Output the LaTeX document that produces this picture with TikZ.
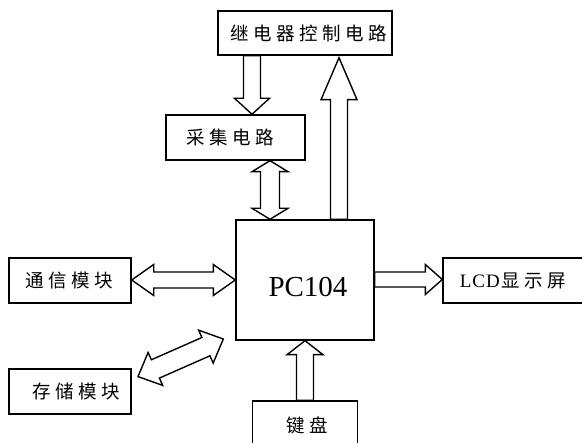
\documentclass[tikz,border=0pt]{standalone}
\usepackage{fontspec}
\setmainfont{Liberation Serif}
\newfontfamily\cjk[LetterSpace=24]{Noto Sans CJK SC}
\usetikzlibrary{calc}
\tikzset{
  box/.style={draw, line width=1.4pt, fill=white, inner sep=0pt, minimum height=45pt,
    font=\cjk\fontsize{18.5}{18.5}\selectfont},
  arr/.style={draw, line width=1.4pt, fill=white, line join=miter},
  pclabel/.style={font=\fontsize{29}{29}\selectfont, inner sep=0pt},
}
% single block arrow: start, end, half shaft, half head, head length
\newcommand\sarrow[5]{%
  \draw[arr] ($(#1)!#3!90:(#2)$) -- ($(#2)!#5!(#1)!#3!90:(#2)$) -- ($(#2)!#5!(#1)!#4!90:(#2)$)
    -- (#2) -- ($(#2)!#5!(#1)!#4!-90:(#2)$) -- ($(#2)!#5!(#1)!#3!-90:(#2)$)
    -- ($(#1)!#3!-90:(#2)$) -- cycle;}
% double block arrow
\newcommand\darrow[5]{%
  \draw[arr] (#1) -- ($(#1)!#5!(#2)!#4!90:(#2)$) -- ($(#1)!#5!(#2)!#3!90:(#2)$)
    -- ($(#2)!#5!(#1)!#3!90:(#2)$) -- ($(#2)!#5!(#1)!#4!90:(#2)$) -- (#2)
    -- ($(#2)!#5!(#1)!#4!-90:(#2)$) -- ($(#2)!#5!(#1)!#3!-90:(#2)$)
    -- ($(#1)!#5!(#2)!#3!-90:(#2)$) -- ($(#1)!#5!(#2)!#4!-90:(#2)$) -- cycle;}
\begin{document}
\begin{tikzpicture}[x=1pt, y=1pt]
\useasboundingbox (0,0) rectangle (582,443);
% boxes
\node[box, minimum width=174pt, minimum height=44pt] (relay) at (305,410) {\hspace*{8pt}继电器控制电路};
\node[box, minimum width=139pt] (acq) at (235.5,305.5) {采集电路\hspace*{10pt}};
\node[box, minimum width=138pt, minimum height=120pt,
  label={[pclabel, xshift=3pt, yshift=-7pt]center:PC104}] (pc) at (305,163) {};
\node[box, minimum width=122pt] (comm) at (70,162.5) {通信模块\hspace*{2pt}};
\node[box, minimum width=140pt] (lcd) at (513,162.5) {{\fontsize{19}{19}\selectfont\rmfamily L\kern1pt C\kern1pt D\kern2pt}显示屏};
\node[box, minimum width=122pt] (store) at (70,51.5) {\hspace*{13pt}存储模块};
\node[box, minimum width=105pt, minimum height=50pt] (kbd) at (305,17) {\raisebox{2pt}{\hspace*{4pt}键盘}};
% arrow end points
\coordinate (a1s) at ($(relay.south)+(-53,0)$);
\coordinate (a1e) at (a1s |- acq.north);
\coordinate (a2s) at ($(pc.north)+(34,0)$);
\coordinate (a2e) at ($(a2s |- relay.south)+(0,-2)$);
\coordinate (a3s) at ($(acq.south)+(34.5,0)$);
\coordinate (a3e) at (a3s |- pc.north);
\coordinate (a4s) at ($(comm.east)+(0,0.5)$);
\coordinate (a4e) at (a4s -| pc.west);
\coordinate (a5s) at ($(pc.east)+(0,0.5)$);
\coordinate (a5e) at (a5s -| lcd.west);
\coordinate (a6s) at (kbd.north);
\coordinate (a6e) at (a6s |- pc.south);
\coordinate (a7s) at ($(store.north east)+(6.3,-8.3)$);
\coordinate (a7e) at ($(pc.south west)+(-12,1.7)$);
% block arrows
\sarrow{a1s}{a1e}{8.5pt}{17.5pt}{16pt}
\sarrow{a2s}{a2e}{8.5pt}{18pt}{42pt}
\darrow{a3s}{a3e}{9.5pt}{18pt}{11pt}
\darrow{a4s}{a4e}{8pt}{15.5pt}{22pt}
\sarrow{a5s}{a5e}{7.5pt}{15pt}{17pt}
\sarrow{a6s}{a6e}{8.5pt}{18pt}{14pt}
\darrow{a7s}{a7e}{10pt}{18pt}{19pt}
\end{tikzpicture}
\end{document}
